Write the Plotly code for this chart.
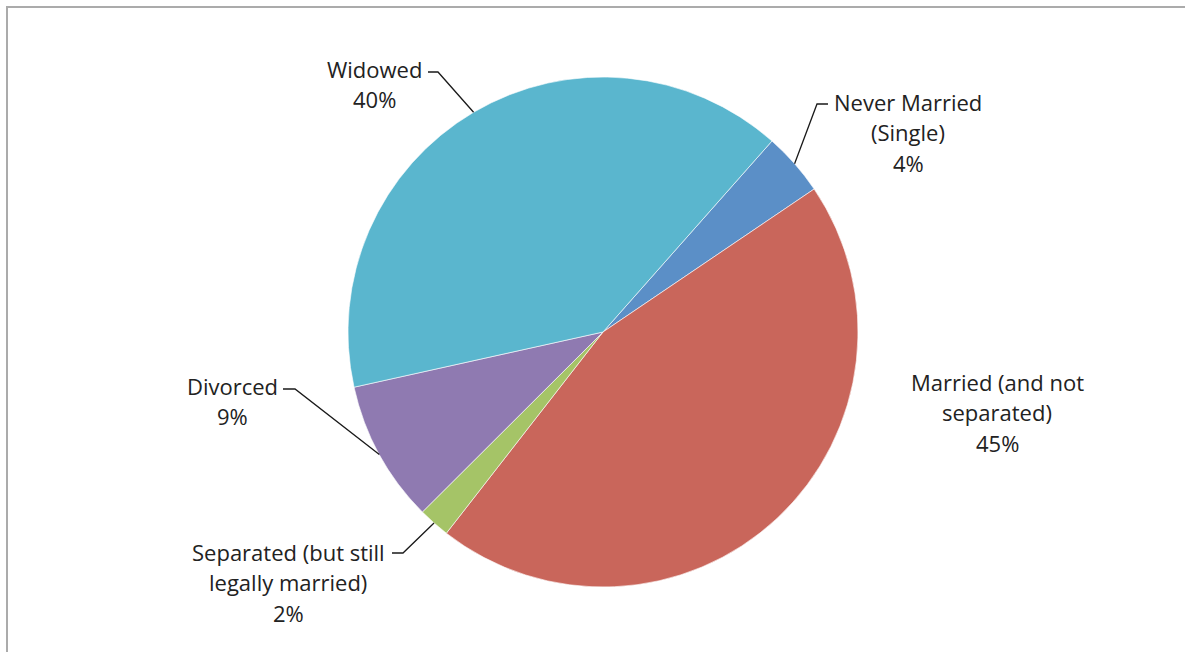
import math
import plotly.graph_objects as go

# Marital status breakdown (percent of respondents)
categories = [
    "Never Married (Single)",
    "Married (and not separated)",
    "Separated (but still legally married)",
    "Divorced",
    "Widowed",
]
label_lines = [
    ["Never Married", "(Single)"],
    ["Married (and not", "separated)"],
    ["Separated (but still", "legally married)"],
    ["Divorced"],
    ["Widowed"],
]
values = [4, 45, 2, 9, 40]
colors = ["#5B8FC7", "#C9665B", "#A5C467", "#8F7AB1", "#5AB6CE"]

W, H = 1185, 652
CX, CY, R = 603, 332, 255          # pie centre and radius in pixels
ROTATION = 41.5                    # start angle of first slice, clockwise from 12 o'clock
FONT = "Open Sans"
FONT_SIZE = 22
LINE_PITCH = 30.5
TEXT_COLOR = "#222222"

# label block centres and leader elbows (pixels); None = no leader line
label_layout = {
    "Never Married (Single)": dict(center=(908, 132), leader=[(828, 104), (817, 104)]),
    "Married (and not separated)": dict(center=(997, 412), leader=None),
    "Separated (but still legally married)": dict(center=(288, 582), leader=[(392, 553), (403, 553)]),
    "Divorced": dict(center=(232, 401), leader=[(283, 389), (295, 389)]),
    "Widowed": dict(center=(374, 84), leader=[(428, 72), (438, 72)]),
}


def px_x(x):
    return x / W


def px_y(y):
    return 1 - y / H


fig = go.Figure(
    go.Pie(
        labels=categories,
        values=values,
        sort=False,
        direction="clockwise",
        rotation=ROTATION,
        marker=dict(colors=colors, line=dict(color="white", width=0.6)),
        textinfo="none",
        hoverinfo="label+percent",
        showlegend=False,
        domain=dict(
            x=[px_x(CX - R), px_x(CX + R)],
            y=[px_y(CY + R), px_y(CY - R)],
        ),
    )
)

annotations = []
shapes = []
total = sum(values)
cum = 0.0
for cat, lines, v in zip(categories, label_lines, values):
    mid_deg = ROTATION + 360.0 * (cum + v / 2.0) / total
    cum += v
    pct = round(100.0 * v / total)
    text_lines = lines + [f"{pct}%"]
    lay = label_layout[cat]
    bx, by = lay["center"]
    n = len(text_lines)
    for i, t in enumerate(text_lines):
        ly = by + (i - (n - 1) / 2.0) * LINE_PITCH
        annotations.append(
            dict(
                x=px_x(bx), y=px_y(ly), xref="paper", yref="paper",
                text=t, showarrow=False, xanchor="center", yanchor="middle",
                font=dict(family=FONT, size=FONT_SIZE, color=TEXT_COLOR),
            )
        )
    if lay["leader"]:
        a = math.radians(mid_deg)
        ax, ay = CX + R * math.sin(a), CY - R * math.cos(a)
        pts = lay["leader"] + [(ax, ay)]
        path = "M " + " L ".join(f"{px_x(x):.5f},{px_y(y):.5f}" for x, y in pts)
        shapes.append(
            dict(type="path", xref="paper", yref="paper", path=path,
                 line=dict(color="#1a1a1a", width=1.3))
        )

# chart-area frame
shapes.append(
    dict(type="rect", xref="paper", yref="paper",
         x0=px_x(7), x1=1.02, y0=-0.02, y1=px_y(7),
         line=dict(color="#ABABAB", width=2), fillcolor="rgba(0,0,0,0)")
)

fig.update_layout(
    width=W, height=H,
    margin=dict(l=0, r=0, t=0, b=0),
    paper_bgcolor="white",
    plot_bgcolor="white",
    annotations=annotations,
    shapes=shapes,
)

fig.write_html("out.html")
